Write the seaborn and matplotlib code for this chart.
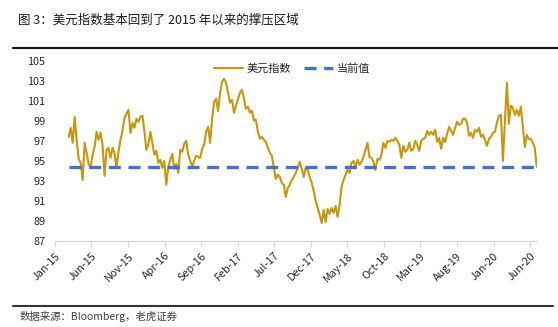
import numpy as np
import pandas as pd
import matplotlib
matplotlib.use("Agg")
import matplotlib.pyplot as plt
import matplotlib.dates as mdates
from matplotlib.lines import Line2D
import seaborn as sns

# ---------------- data ----------------
title_text = "图 3：美元指数基本回到了 2015 年以来的撑压区域"
source_text = "数据来源：Bloomberg，老虎证券"
series_name = "美元指数"
current_name = "当前值"
start_date = "2015-02-27"
end_date = "2020-06-29"
current_value = 94.43

dxy_values = [
    97.4, 98.3, 96.8, 99.4, 97.1, 95.2, 94.8, 93.1, 96.8, 95.8,
    94.7, 94.3, 95.6, 96.4, 97.9, 97.1, 97.8, 96.6, 93.5, 96.1,
    96.3, 95.3, 96.3, 95.8, 94.3, 95.9, 97.1, 98.0, 99.3, 99.7,
    100.1, 97.8, 98.8, 98.3, 99.2, 98.9, 99.4, 99.5,
    98.0, 96.1, 96.7, 97.9, 96.8, 95.6, 96.0, 94.8, 95.1, 94.3,
    95.0, 92.6, 94.4, 95.1, 95.7, 94.2, 94.7, 93.8, 96.1, 95.9,
    96.7, 97.0, 95.6, 95.0, 94.4, 95.0, 95.5, 95.4, 95.3, 96.2,
    96.6, 97.9, 98.4, 96.8, 99.2, 100.9, 101.2, 100.0, 101.8, 102.9,
    103.2, 102.8, 101.8, 100.8, 101.1, 99.8, 100.5, 101.2, 101.8, 102.1,
    101.2, 100.2, 100.4, 99.8, 100.0, 99.0, 99.1, 97.9, 97.2, 97.4,
    97.1, 96.9, 96.3, 95.8, 95.5, 94.3, 93.2, 93.6, 93.4, 92.8,
    92.6, 91.4, 92.3, 92.6, 93.1, 93.4, 93.8, 94.3, 94.9, 94.2,
    93.4, 94.3, 94.1, 93.4, 92.8, 92.0, 91.0, 90.3, 89.6, 88.8,
    90.1, 88.9, 90.2, 89.7, 90.3, 89.8, 90.5, 89.4, 90.6, 92.4,
    93.1, 93.6, 94.1, 93.8, 94.8, 95.0, 94.4, 95.1, 94.6, 94.9,
    95.4, 96.1, 96.8, 95.4, 95.3, 94.9, 94.1, 95.2, 95.1,
    95.6, 96.8, 96.3, 97.0, 96.9, 97.1, 97.0, 97.3, 97.0, 96.6,
    95.3, 96.5, 95.9, 96.1, 96.8, 96.0, 96.2, 97.0, 96.6, 96.0,
    97.0, 97.2, 97.3, 98.0, 97.6, 97.9, 97.6, 98.1, 96.9, 97.3,
    96.2, 97.3, 96.9, 97.7, 98.4, 98.0, 97.6, 98.3, 98.9, 98.6,
    98.7, 99.2,
    99.2, 98.8, 97.5, 97.8, 97.3, 98.1, 97.9, 98.3, 97.4, 97.6,
    97.1, 96.5, 97.2, 97.4, 97.8, 97.9, 98.8, 99.5, 99.6, 95.0,
    99.0, 102.8, 98.7, 100.5, 100.3, 99.6, 100.1, 99.5, 100.4, 98.4,
    96.4, 97.6, 97.2, 97.2, 96.8, 96.3, 94.4,
]

tick_labels = ["Jan-15", "Jun-15", "Nov-15", "Apr-16", "Sep-16", "Feb-17", "Jul-17",
               "Dec-17", "May-18", "Oct-18", "Mar-19", "Aug-19", "Jan-20", "Jun-20"]
y_ticks = [87, 89, 91, 93, 95, 97, 99, 101, 103, 105]

# ---------------- build ----------------
dates = pd.date_range(start_date, end_date, periods=len(dxy_values))
df = pd.DataFrame({"date": dates, "value": dxy_values,
                   "current": [current_value] * len(dxy_values)})
tick_dates = pd.to_datetime(tick_labels, format="%b-%y")

sns.set_theme(style="white")
plt.rcParams["font.family"] = ["Noto Sans CJK SC", "DejaVu Sans"]
plt.rcParams["axes.unicode_minus"] = False

fig = plt.figure(figsize=(5.58, 3.27), dpi=100)
ax = fig.add_axes([55 / 558, 1 - 241 / 327, (537 - 55) / 558, (241 - 60.7) / 327])

gold = "#C9960C"
blue = "#4472C4"
sns.lineplot(data=df, x="date", y="value", ax=ax, color=gold, linewidth=1.5,
             label=series_name)
sns.lineplot(data=df, x="date", y="current", ax=ax, color=blue, linewidth=2.4,
             linestyle=(0, (3.6, 2.3)), label=current_name)

ax.set_xlim(pd.Timestamp("2015-01-01"), pd.Timestamp("2020-06-30"))
ax.set_ylim(87, 105)
ax.set_yticks(y_ticks)
ax.set_xticks(tick_dates)
ax.set_xticklabels(tick_labels, rotation=45, ha="right", va="top",
                   rotation_mode="anchor", fontsize=7.8, color="#262626")
ax.set_yticklabels([str(v) for v in y_ticks], fontsize=7.8, color="#262626")
ax.set_xlabel("")
ax.set_ylabel("")

for s in ["left", "right", "top"]:
    ax.spines[s].set_visible(False)
ax.spines["bottom"].set_color("#D9D9D9")
ax.spines["bottom"].set_linewidth(1.0)
ax.tick_params(axis="x", bottom=True, length=4, width=1.0, color="#D9D9D9",
               direction="out", pad=3)
ax.tick_params(axis="y", left=False, length=0, pad=7)

handles, labels = ax.get_legend_handles_labels()
if ax.get_legend() is not None:
    ax.get_legend().remove()
fig.legend(handles, labels, loc="center", bbox_to_anchor=(292 / 558, 1 - 69 / 327),
           ncol=2, frameon=False, fontsize=8, handlelength=2.6, handletextpad=0.35,
           columnspacing=1.2, labelcolor="#262626")

# title, separators and source
fig.text(18 / 558, 1 - 20 / 327, title_text, fontsize=9, color="#1a1a1a",
         ha="left", va="center")
fig.add_artist(Line2D([13 / 558, 1.0], [1 - 48 / 327, 1 - 48 / 327],
                      color="#1a1a1a", linewidth=1.6, transform=fig.transFigure))
fig.add_artist(Line2D([13 / 558, 553 / 558], [1 - 306 / 327, 1 - 306 / 327],
                      color="#333333", linewidth=1.5, transform=fig.transFigure))
fig.text(20 / 558, 1 - 316 / 327, source_text, fontsize=7.5, color="#404040",
         ha="left", va="center")

fig.savefig("out.png", dpi=100)
